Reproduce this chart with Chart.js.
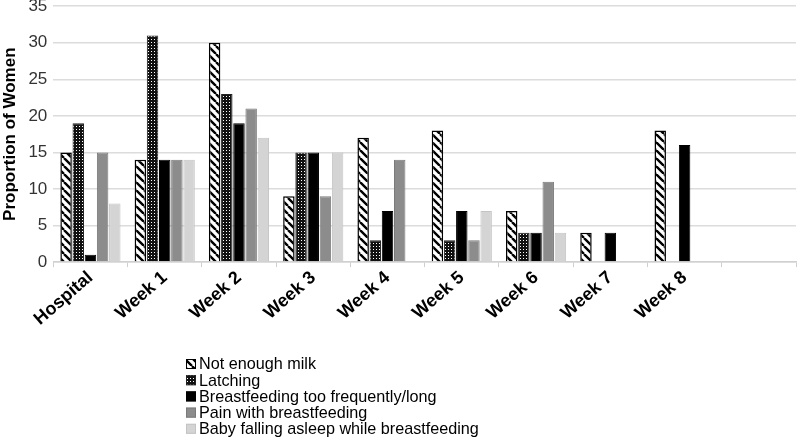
<!DOCTYPE html>
<html>
<head>
<meta charset="utf-8">
<script src="https://cdn.jsdelivr.net/npm/chart.js@4"></script>
<style>
  html, body { margin: 0; padding: 0; background: #fff; }
  #wrap { width: 800px; height: 439px; overflow: hidden; position: relative; }
  #chart { position: absolute; left: 0; top: -10px; }
</style>
</head>
<body>
<div id="wrap"><canvas id="chart" width="800" height="449"></canvas></div>
<script>
// chart data
const categories = ["Hospital", "Week 1", "Week 2", "Week 3", "Week 4", "Week 5", "Week 6", "Week 7", "Week 8", ""];
const notEnoughMilk = [15, 14, 30, 9, 17, 18, 7, 4, 18, null];
const latching = [19, 31, 23, 15, 3, 3, 4, null, null, null];
const tooFrequent = [1, 14, 19, 15, 7, 7, 4, 4, 16, null];
const pain = [15, 14, 21, 9, 14, 3, 11, null, null, null];
const fallingAsleep = [8, 14, 17, 15, null, 7, 4, null, null, null];
const yTicks = [0, 5, 10, 15, 20, 25, 30, 35];

const FONT = "'Liberation Sans', Arial, sans-serif";

// pattern fills
function stripePattern() {
  const c = document.createElement("canvas");
  c.width = 8; c.height = 8;
  const g = c.getContext("2d");
  g.fillStyle = "#fff";
  g.fillRect(0, 0, 8, 8);
  g.strokeStyle = "#000";
  g.lineWidth = 2.4;
  g.beginPath();
  for (let k = -8; k <= 16; k += 8) {
    g.moveTo(k, 0);
    g.lineTo(k + 8, 8);
  }
  g.stroke();
  return g.createPattern(c, "repeat");
}

function dotPattern() {
  const c = document.createElement("canvas");
  c.width = 3; c.height = 3;
  const g = c.getContext("2d");
  g.fillStyle = "#111";
  g.fillRect(0, 0, 3, 3);
  g.fillStyle = "#fff";
  g.fillRect(1, 1, 1, 1);
  return g.createPattern(c, "repeat");
}

const stripes = stripePattern();
const dots = dotPattern();

// vertical legend under the axis (canvas is shifted up by 10px)
const bottomLegend = {
  id: "bottomLegend",
  afterDraw(chart) {
    const ctx = chart.ctx;
    const x0 = 186, y0 = 374, step = 16.2;
    ctx.save();
    ctx.font = "16.2px " + FONT;
    ctx.textBaseline = "middle";
    chart.data.datasets.forEach((ds, i) => {
      const y = y0 + i * step;
      ctx.fillStyle = ds.backgroundColor;
      ctx.fillRect(x0, y - 5, 10, 10);
      ctx.strokeStyle = ds.borderColor;
      ctx.lineWidth = 1;
      ctx.strokeRect(x0 + 0.5, y - 4.5, 9, 9);
      ctx.fillStyle = "#000";
      ctx.fillText(ds.label, x0 + 13, y + 1);
    });
    ctx.restore();
  }
};

const ctx = document.getElementById("chart").getContext("2d");
const chart = new Chart(ctx, {
  type: "bar",
  data: {
    labels: categories,
    datasets: [
      { label: "Not enough milk", data: notEnoughMilk, backgroundColor: stripes, borderColor: "#000", borderWidth: 1.5 },
      { label: "Latching", data: latching, backgroundColor: dots, borderColor: "#222", borderWidth: 1 },
      { label: "Breastfeeding too frequently/long", data: tooFrequent, backgroundColor: "#000", borderColor: "#000", borderWidth: 1 },
      { label: "Pain with breastfeeding", data: pain, backgroundColor: "#8c8c8c", borderColor: "#7a7a7a", borderWidth: 1 },
      { label: "Baby falling asleep while breastfeeding", data: fallingAsleep, backgroundColor: "#d4d4d4", borderColor: "#c4c4c4", borderWidth: 1 }
    ]
  },
  options: {
    responsive: false,
    animation: false,
    layout: { padding: { top: 0, right: 4, bottom: 109, left: 0 } },
    datasets: {
      bar: { categoryPercentage: 0.82, barPercentage: 0.94, borderSkipped: "bottom" }
    },
    scales: {
      y: {
        min: 0,
        max: 35,
        afterBuildTicks: (axis) => { axis.ticks = yTicks.map(v => ({ value: v })); },
        ticks: { color: "#333", font: { family: FONT, size: 17 }, padding: 6 },
        grid: { color: "#dcdcdc", drawTicks: false, lineWidth: 1.5 },
        border: { display: false },
        title: {
          display: true,
          text: "Proportion of Women",
          color: "#000",
          font: { family: FONT, size: 17, weight: "bold" },
          padding: { top: 0, bottom: 2 }
        }
      },
      x: {
        ticks: {
          color: "#000",
          font: { family: FONT, size: 18, weight: "bold" },
          minRotation: 41,
          maxRotation: 41,
          autoSkip: false,
          padding: 0
        },
        grid: { offset: true, drawOnChartArea: false, color: "#d0d0d0", tickLength: 5 },
        border: { display: true, color: "#d0d0d0", width: 1.5 }
      }
    },
    plugins: {
      legend: { display: false },
      tooltip: { enabled: false }
    }
  },
  plugins: [bottomLegend]
});
</script>
</body>
</html>
